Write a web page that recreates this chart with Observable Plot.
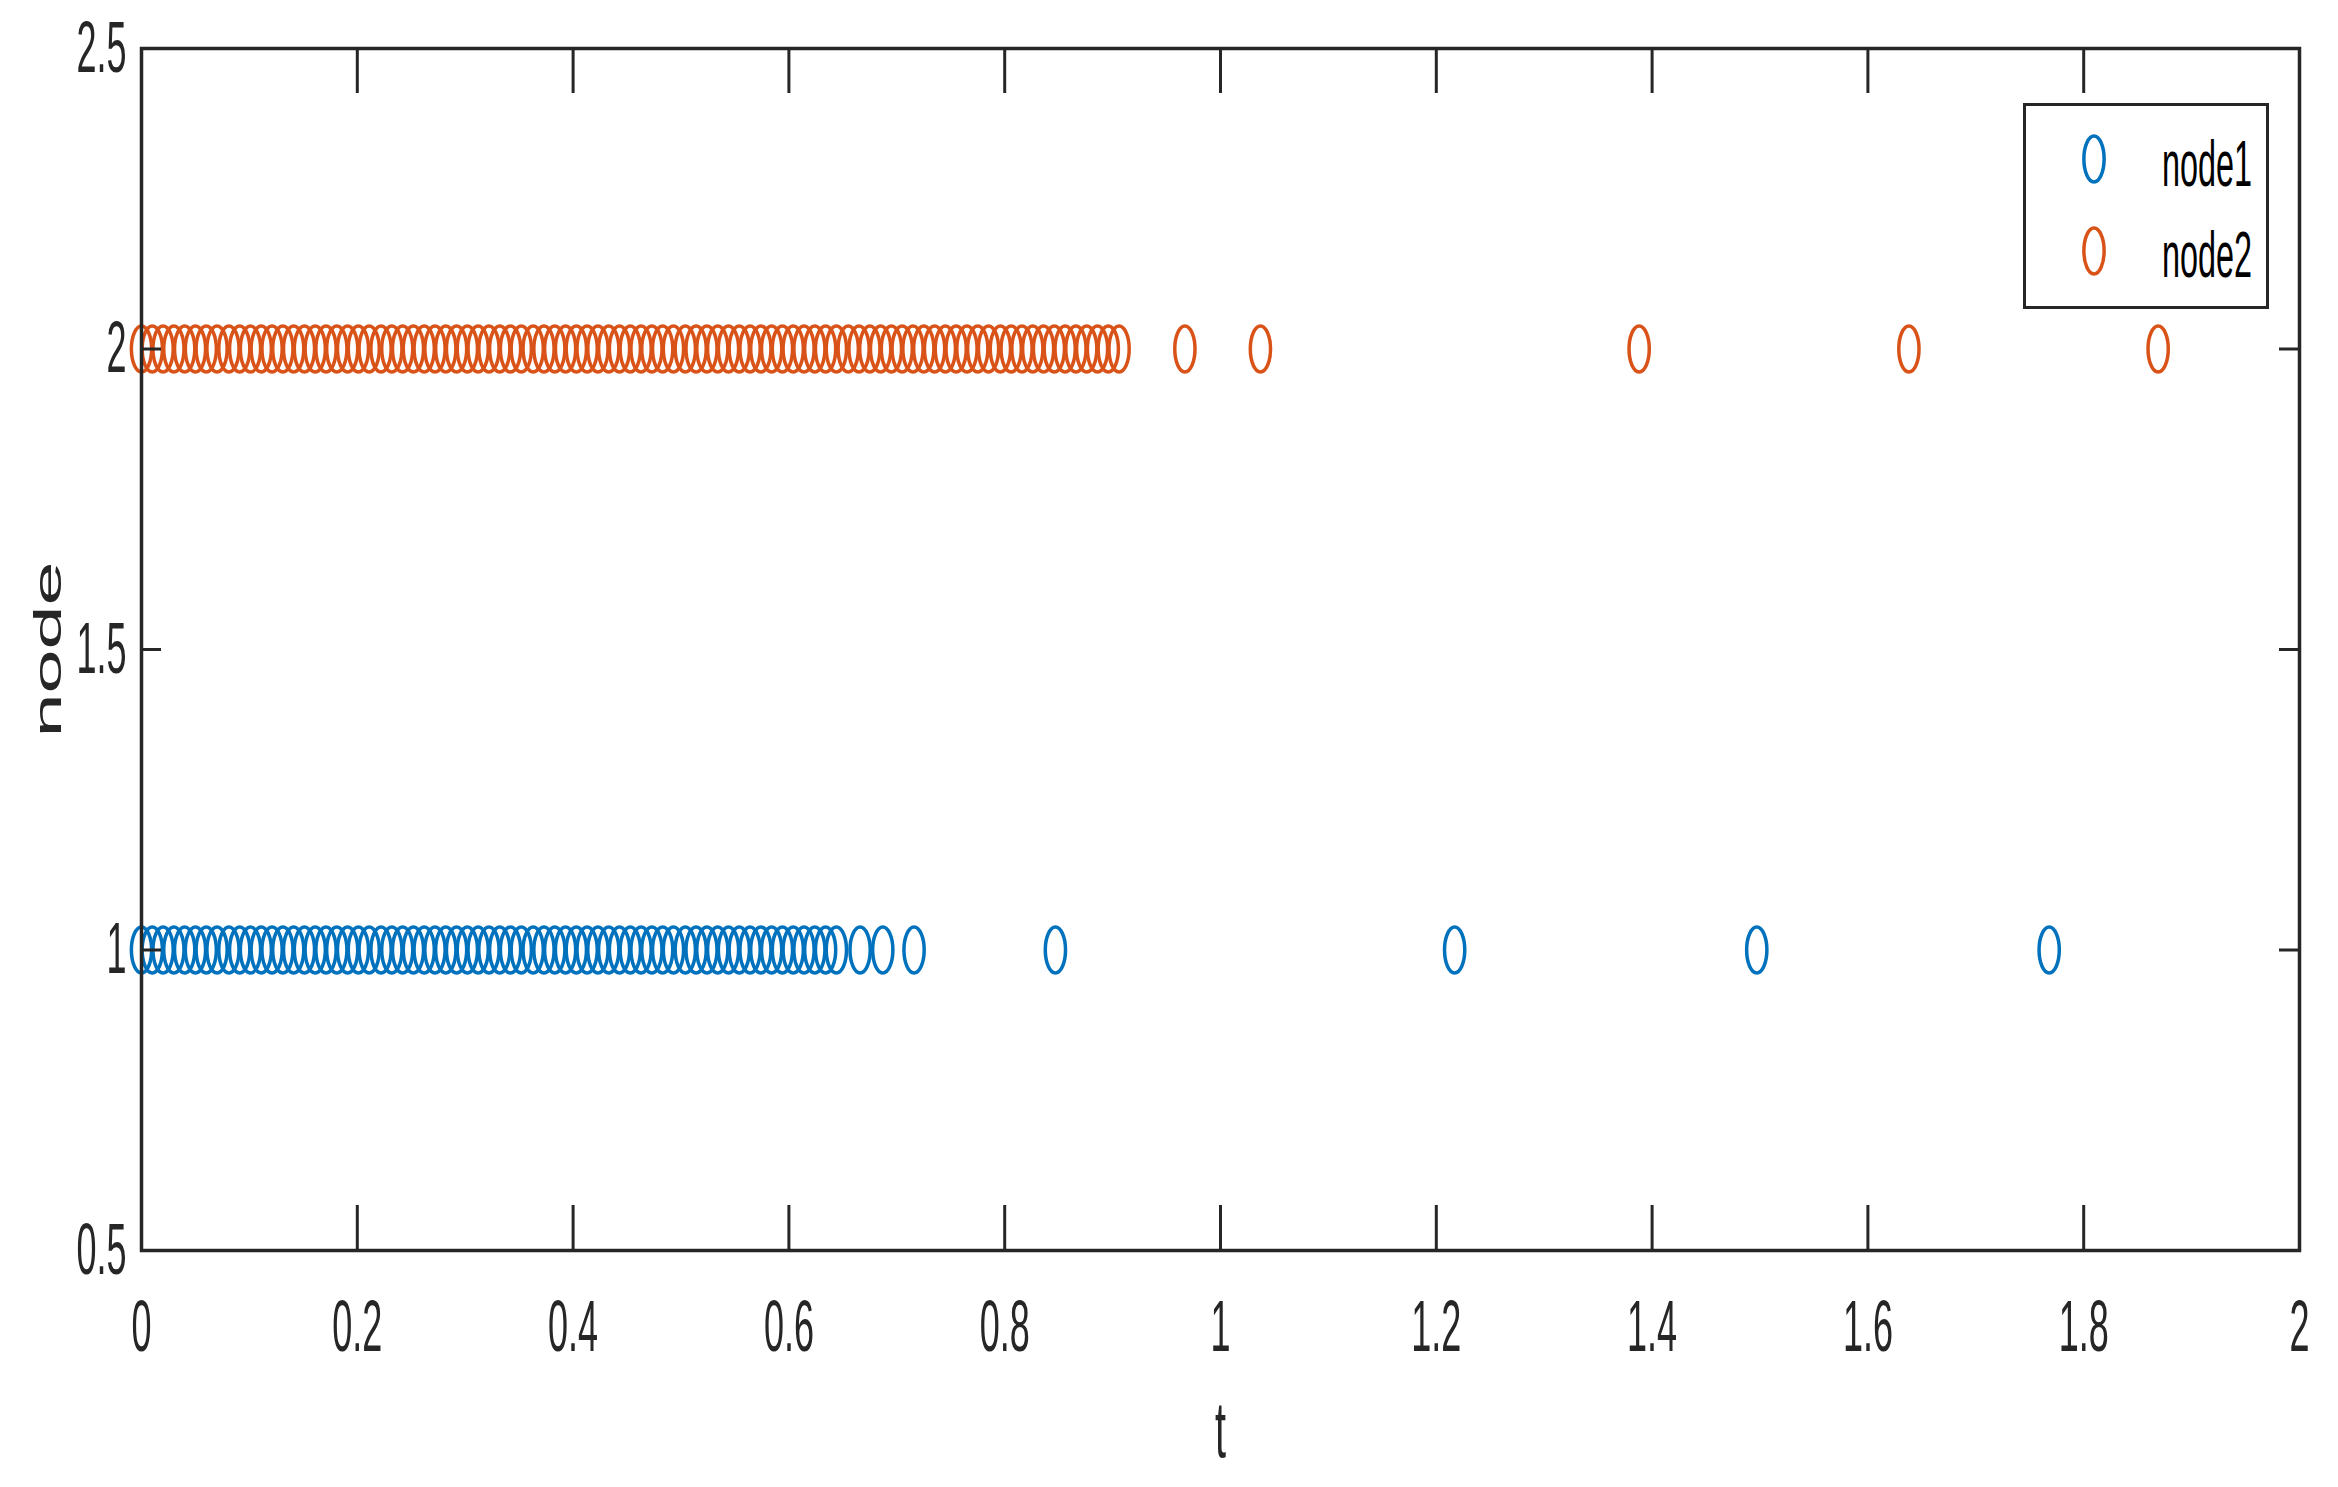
<!DOCTYPE html>
<html><head><meta charset="utf-8">
<script src="https://cdn.jsdelivr.net/npm/d3@7"></script>
<script src="https://cdn.jsdelivr.net/npm/@observablehq/plot@0.6"></script>
<style>
html,body{margin:0;padding:0;background:#fff;}
#wrap{position:relative;width:2338px;height:1487px;overflow:hidden;}
#legend{position:absolute;left:2023px;top:103px;}
</style></head><body><div id="wrap"></div>
<script>
// ---- data ----
const node1T = [0,0.010,0.020,0.030,0.040,0.050,0.060,0.070,0.081,0.091,
  0.101,0.111,0.121,0.131,0.141,0.151,0.161,0.171,0.181,0.191,
  0.201,0.211,0.222,0.232,0.242,0.252,0.262,0.272,0.282,0.292,
  0.302,0.312,0.322,0.332,0.342,0.352,0.363,0.373,0.383,0.393,
  0.403,0.413,0.423,0.433,0.443,0.453,0.463,0.473,0.483,0.493,
  0.504,0.514,0.524,0.534,0.544,0.554,0.564,0.574,0.584,0.594,
  0.604,0.614,0.624,0.634,0.644,
  0.666,0.687,0.716,0.847,1.217,1.497,1.768];
const node2T = [0,0.010,0.020,0.030,0.040,0.050,0.060,0.070,0.081,0.091,
  0.101,0.111,0.121,0.131,0.141,0.151,0.161,0.171,0.181,0.191,
  0.201,0.211,0.222,0.232,0.242,0.252,0.262,0.272,0.282,0.292,
  0.302,0.312,0.322,0.332,0.342,0.352,0.363,0.373,0.383,0.393,
  0.403,0.413,0.423,0.433,0.443,0.453,0.463,0.473,0.483,0.493,
  0.504,0.514,0.524,0.534,0.544,0.554,0.564,0.574,0.584,0.594,
  0.604,0.614,0.624,0.634,0.644,0.655,0.665,0.675,0.685,0.695,
  0.705,0.715,0.725,0.735,0.745,0.755,0.765,0.775,0.785,0.796,
  0.806,0.816,0.826,0.836,0.846,0.856,0.866,0.876,0.886,0.896,0.906,
  0.967,1.037,1.388,1.638,1.869];
const seriesNames = ["node1", "node2"];
const seriesLevels = [1, 2];
const seriesColors = ["#0072BD", "#D95319"];
const xTicks = [0,0.2,0.4,0.6,0.8,1,1.2,1.4,1.6,1.8,2];
const xTickLabels = ["0","0.2","0.4","0.6","0.8","1","1.2","1.4","1.6","1.8","2"];
const yTicks = [0.5,1,1.5,2,2.5];
const yTickLabels = ["0.5","1","1.5","2","2.5"];
const xLabel = "t";
const yLabel = "node";

// ---- build ----
const rows = [
  ...node1T.map(t => ({t, node: seriesLevels[0], series: seriesNames[0]})),
  ...node2T.map(t => ({t, node: seriesLevels[1], series: seriesNames[1]}))
];

const ellipse = {
  draw(ctx, size) {
    const k = Math.sqrt(size / Math.PI);
    const rx = k * 0.44, ry = k, c = 0.5523;
    ctx.moveTo(0, -ry);
    ctx.bezierCurveTo(c * rx, -ry, rx, -c * ry, rx, 0);
    ctx.bezierCurveTo(rx, c * ry, c * rx, ry, 0, ry);
    ctx.bezierCurveTo(-c * rx, ry, -rx, c * ry, -rx, 0);
    ctx.bezierCurveTo(-rx, -c * ry, -c * rx, -ry, 0, -ry);
    ctx.closePath();
  }
};

const W = 2338, H = 1487, mL = 141, mR = 39, mT = 48, mB = 237;
const FW = W - mL - mR, FH = H - mT - mB;
const axisColor = "#262626";
const xFmt = d => xTickLabels[xTicks.indexOf(d)];
const yFmt = d => yTickLabels[yTicks.indexOf(d)];

const chart = Plot.plot({
  width: W, height: H,
  marginLeft: mL, marginRight: mR, marginTop: mT, marginBottom: mB,
  style: {fontFamily: "'Liberation Sans', Arial, Helvetica, sans-serif", fontSize: "36px", color: axisColor, background: "white"},
  x: {domain: [0, 2]},
  y: {domain: [0.5, 2.5]},
  color: {domain: seriesNames, range: seriesColors},
  marks: [
    Plot.dot(rows, {x: "t", y: "node", stroke: "series", fill: "none", symbol: ellipse, r: 23, strokeWidth: 3.5}),
    Plot.tickX(xTicks, {x: d => d, stroke: axisColor, strokeWidth: 3, insetTop: FH - 45}),
    Plot.tickX(xTicks, {x: d => d, stroke: axisColor, strokeWidth: 3, insetBottom: FH - 45}),
    Plot.tickY(yTicks, {y: d => d, stroke: axisColor, strokeWidth: 3, insetRight: FW - 20}),
    Plot.tickY(yTicks, {y: d => d, stroke: axisColor, strokeWidth: 3, insetLeft: FW - 20}),
    Plot.frame({stroke: axisColor, strokeWidth: 3.5}),
    Plot.axisX({ticks: xTicks, tickSize: 0, tickPadding: 49, tickFormat: xFmt, label: null, fontSize: 36}),
    Plot.axisY({ticks: yTicks, tickSize: 0, tickPadding: 15, tickFormat: yFmt, label: null, fontSize: 36}),
    Plot.text([xLabel], {frameAnchor: "bottom", dy: 181, text: d => d, fontSize: 39.6, lineAnchor: "middle", textAnchor: "middle"}),
    Plot.text([yLabel], {frameAnchor: "left", dx: -93, rotate: -90, text: d => d, fontSize: 39.6, lineAnchor: "middle", textAnchor: "middle"})
  ]
});

// Stretch all text vertically (the reference's glyphs are stretched 2x vertically)
function stretchText(root) {
  root.querySelectorAll("text").forEach(t => {
    const tr = t.getAttribute("transform");
    if (tr && /^\s*translate\(/.test(tr)) {
      t.setAttribute("transform", tr.replace(/^\s*(translate\([^)]*\))/, "$1 scale(1,2)"));
    } else {
      const x = +(t.getAttribute("x") || 0), y = +(t.getAttribute("y") || 0);
      if (!t.getAttribute("y") || !String(t.getAttribute("y")).includes("em")) {
        t.removeAttribute("x"); t.removeAttribute("y");
        t.setAttribute("transform", `translate(${x},${y}) scale(1,2)` + (tr ? " " + tr : ""));
      }
    }
  });
}
stretchText(chart);

const wrap = document.getElementById("wrap");
wrap.appendChild(chart);

// Legend (inside the axes, top right)
const lg = d3.create("svg").attr("id", "legend").attr("width", 246).attr("height", 206)
  .style("font-family", "'Liberation Sans', Arial, Helvetica, sans-serif");
lg.append("rect").attr("x", 1.5).attr("y", 1.5).attr("width", 243).attr("height", 203)
  .attr("fill", "white").attr("stroke", axisColor).attr("stroke-width", 3);
const p = d3.path(); ellipse.draw(p, Math.PI * 23 * 23);
const markerY = [56, 148], textY = [83, 174];
seriesNames.forEach((name, i) => {
  lg.append("path").attr("d", p.toString()).attr("transform", `translate(71,${markerY[i]})`)
    .attr("fill", "none").attr("stroke", seriesColors[i]).attr("stroke-width", 3.5);
  lg.append("text").attr("transform", `translate(139,${textY[i]}) scale(1,2)`)
    .attr("font-size", 32.4).attr("fill", "#000").text(name);
});
wrap.appendChild(lg.node());
</script>
</body></html>
